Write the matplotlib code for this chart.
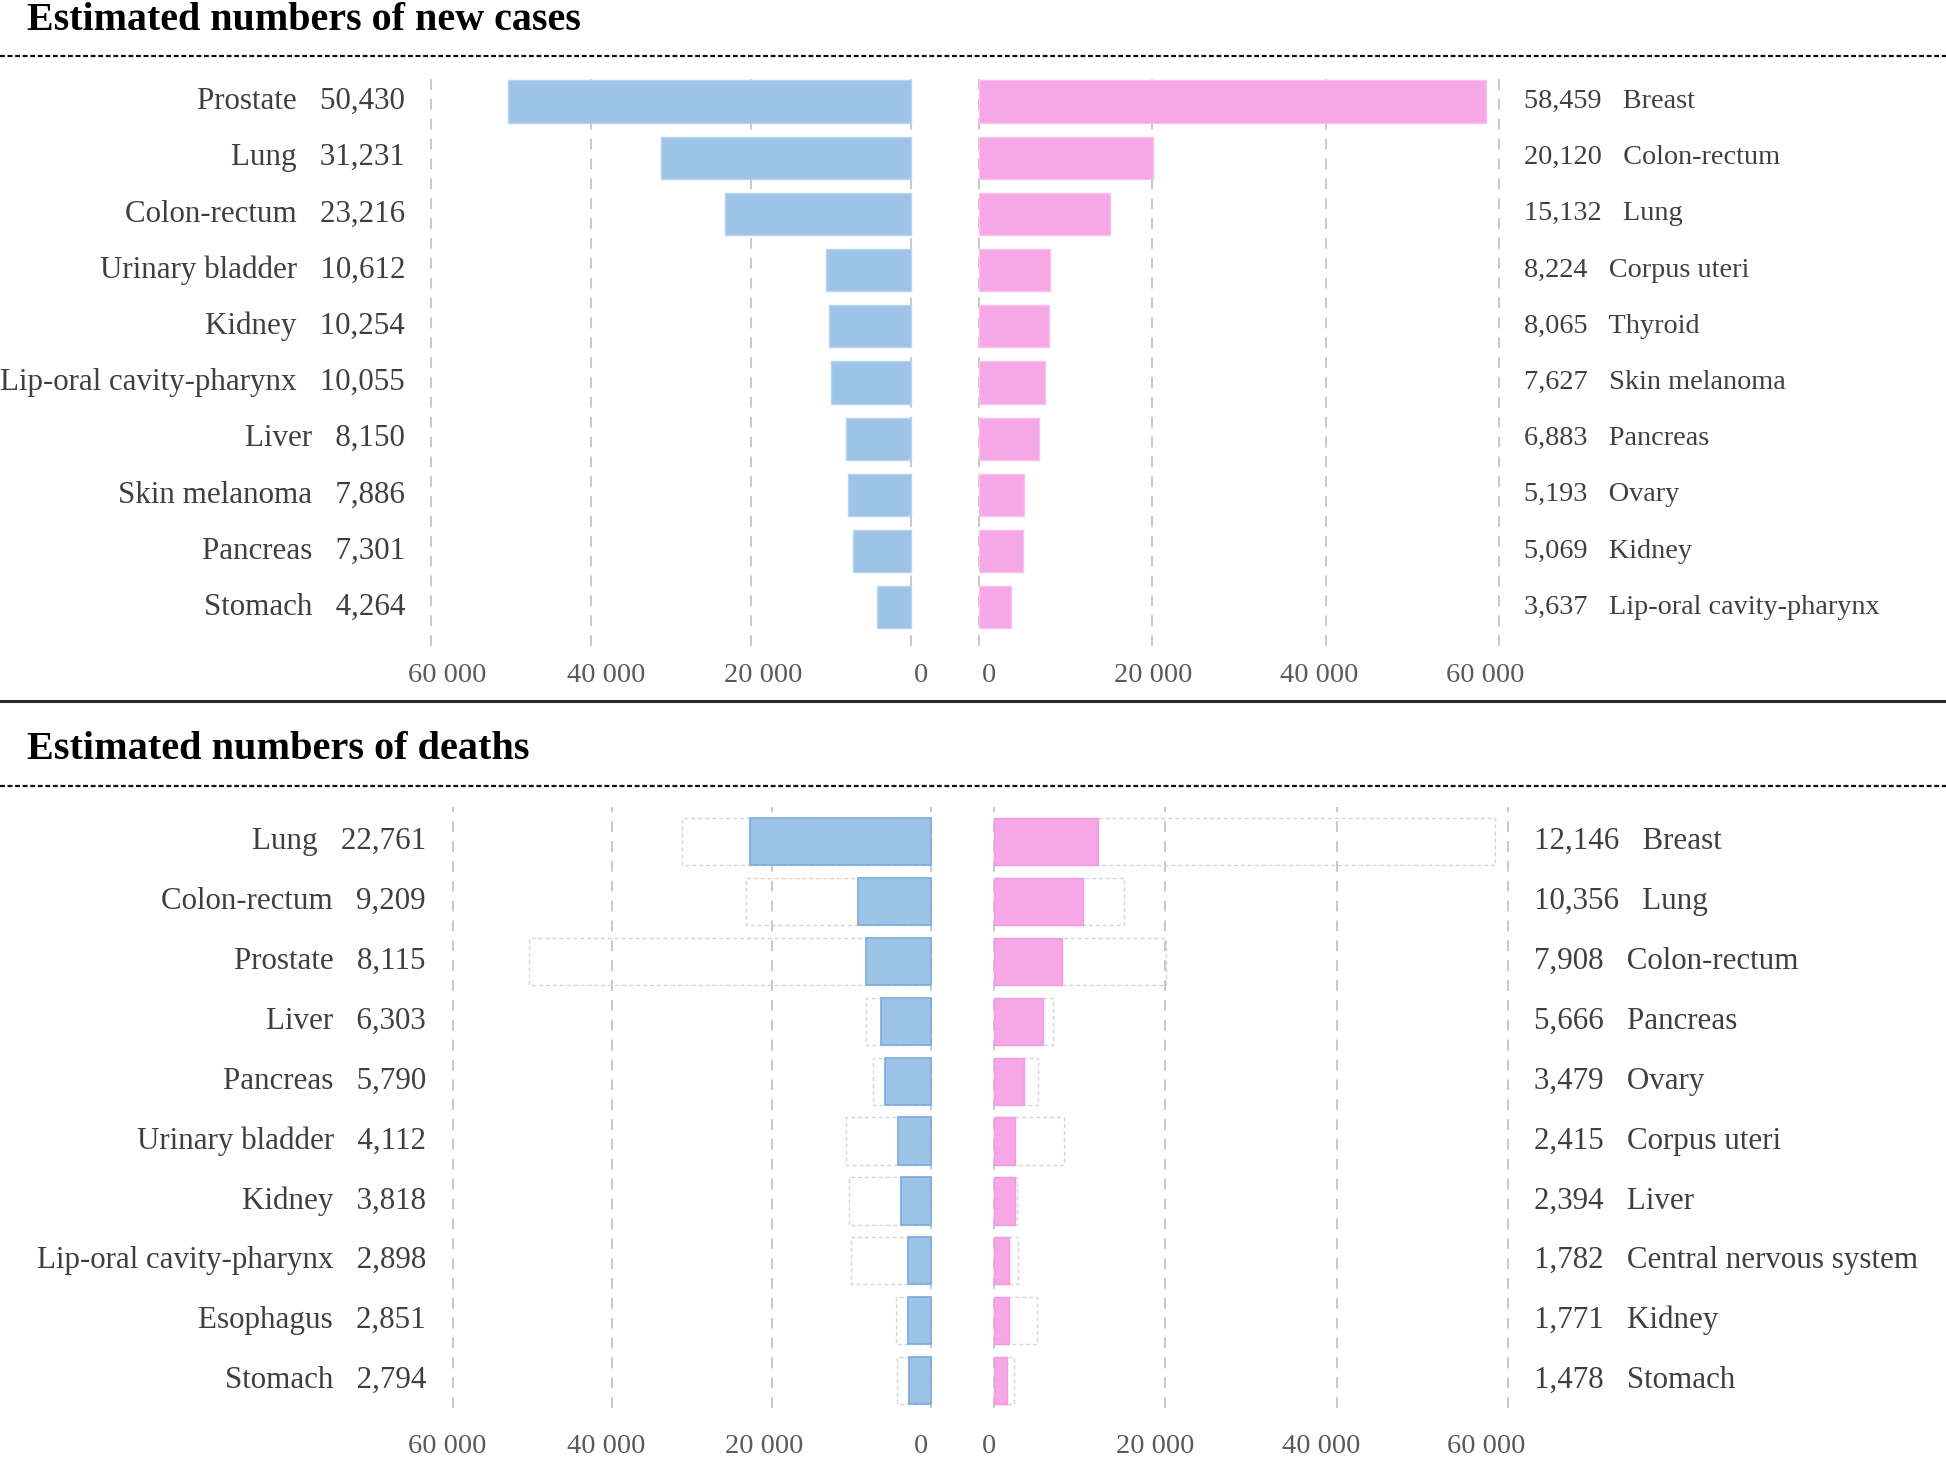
import matplotlib
matplotlib.use("Agg")
import matplotlib.pyplot as plt
from matplotlib.lines import Line2D
from matplotlib import transforms

plt.rcParams['font.family'] = ['Liberation Serif', 'DejaVu Serif']

# new cases
inc_male_sites = ['Prostate', 'Lung', 'Colon-rectum', 'Urinary bladder', 'Kidney',
                  'Lip-oral cavity-pharynx', 'Liver', 'Skin melanoma', 'Pancreas', 'Stomach']
inc_male = [50430, 31231, 23216, 10612, 10254, 10055, 8150, 7886, 7301, 4264]
inc_female_sites = ['Breast', 'Colon-rectum', 'Lung', 'Corpus uteri', 'Thyroid',
                    'Skin melanoma', 'Pancreas', 'Ovary', 'Kidney', 'Lip-oral cavity-pharynx']
inc_female = [58459, 20120, 15132, 8224, 8065, 7627, 6883, 5193, 5069, 3637]

# deaths (+ the new-case figure of the same site, drawn as a faint outline)
mort_male_sites = ['Lung', 'Colon-rectum', 'Prostate', 'Liver', 'Pancreas', 'Urinary bladder',
                   'Kidney', 'Lip-oral cavity-pharynx', 'Esophagus', 'Stomach']
mort_male = [22761, 9209, 8115, 6303, 5790, 4112, 3818, 2898, 2851, 2794]
mort_male_inc = [31231, 23216, 50430, 8150, 7301, 10612, 10254, 10055, 4350, 4264]
mort_female_sites = ['Breast', 'Lung', 'Colon-rectum', 'Pancreas', 'Ovary', 'Corpus uteri',
                     'Liver', 'Central nervous system', 'Kidney', 'Stomach']
mort_female = [12146, 10356, 7908, 5666, 3479, 2415, 2394, 1782, 1771, 1478]
mort_female_inc = [58459, 15132, 20120, 6883, 5193, 8224, 2700, 2850, 5069, 2300]

ticks = [0, 20000, 40000, 60000]
tick_labels = ['0', '20 000', '40 000', '60 000']

BLUE = '#9dc3e6'
PINK = '#f5a7e6'
TXT = '#3f3f3f'

W, H = 1946, 1458
fig = plt.figure(figsize=(W / 100, H / 100), dpi=100)


def make_axes(px_zero, px_60k, y_top, y_bot, ylims, left):
    pad = 800
    s = (px_60k - px_zero) / 60000
    xa = px_zero - pad * s
    xb = px_60k + pad * s
    x0, x1 = min(xa, xb), max(xa, xb)
    ax = fig.add_axes([x0 / W, 1 - y_bot / H, (x1 - x0) / W, (y_bot - y_top) / H])
    if left:
        ax.set_xlim(60000 + pad, -pad)
    else:
        ax.set_xlim(-pad, 60000 + pad)
    ax.set_ylim(*ylims)
    for sp in ax.spines.values():
        sp.set_visible(False)
    ax.set_yticks([])
    ax.set_xticks(ticks)
    ax.set_xticklabels(tick_labels)
    for t in ticks:
        ax.plot([t, t], [ylims[0], ylims[1]], color='#c4c4c4', lw=1.3,
                ls=(0, (6, 5)), zorder=0)
    return ax


def label_ticks(ax, pad, shifts):
    # the printed tick labels sit a little off their gridlines
    ax.tick_params(axis='x', length=0, pad=pad, labelsize=20.5, labelcolor='#5a5a5a')
    for lab, dx in zip(ax.get_xticklabels(), shifts):
        off = transforms.ScaledTranslation(dx / 100, 0, fig.dpi_scale_trans)
        lab.set_transform(lab.get_transform() + off)


def row_labels(ax, sites, vals, xpx, left, size=22.3):
    tr = transforms.blended_transform_factory(fig.transFigure, ax.transData)
    for i, (s, v) in enumerate(zip(sites, vals)):
        if left:
            txt = f"{s}   {v:,}"
            ha = 'right'
        else:
            txt = f"{v:,}   {s}"
            ha = 'left'
        ax.text(xpx / W, i, txt, transform=tr, ha=ha, va='center',
                fontsize=size, color=TXT)


rows = list(range(10))

# ---- top panel: new cases
top_ylim = (9.69, -0.49)
ax1 = make_axes(911, 431, 74, 646, top_ylim, True)
ax1.barh(rows, inc_male, height=0.75, color=BLUE, edgecolor='#b9d4ee', lw=1, zorder=2)
row_labels(ax1, inc_male_sites, inc_male, 405, True)
label_ticks(ax1, 12, [10, 12, 15, 16])

ax2 = make_axes(979, 1499, 74, 646, top_ylim, False)
ax2.barh(rows, inc_female, height=0.75, color=PINK, edgecolor='#f8c2ee', lw=1, zorder=2)
row_labels(ax2, inc_female_sites, inc_female, 1524, False, size=20.3)
label_ticks(ax2, 12, [10, 1, -6, -14])

# ---- bottom panel: deaths
bot_ylim = (9.46, -0.58)
ax3 = make_axes(931, 453, 807, 1408, bot_ylim, True)
ax3.barh(rows, mort_male_inc, height=0.79, fill=False, edgecolor='#d6d6d6',
         lw=1, ls=(0, (3, 2)), zorder=1)
ax3.barh(rows, mort_male, height=0.79, color=BLUE, edgecolor='#78abdd', lw=1.2, zorder=2)
row_labels(ax3, mort_male_sites, mort_male, 426, True)
label_ticks(ax3, 19, [-10, -7, -6, -6])

ax4 = make_axes(994, 1508, 807, 1408, bot_ylim, False)
ax4.barh(rows, mort_female_inc, height=0.79, fill=False, edgecolor='#d6d6d6',
         lw=1, ls=(0, (3, 2)), zorder=1)
ax4.barh(rows, mort_female, height=0.79, color=PINK, edgecolor='#f29be0', lw=1, zorder=2)
row_labels(ax4, mort_female_sites, mort_female, 1534, False)
label_ticks(ax4, 19, [-5, -10, -15, -22])

# ---- titles and rules
fig.text(27 / W, 1 - 30 / H, 'Estimated numbers of new cases', fontsize=28.8,
         fontweight='bold', color='black', ha='left', va='baseline')
fig.text(27 / W, 1 - 759 / H, 'Estimated numbers of deaths', fontsize=29,
         fontweight='bold', color='black', ha='left', va='baseline')

for y in (56, 786):
    fig.add_artist(Line2D([0, 1], [1 - y / H, 1 - y / H], transform=fig.transFigure,
                          color='#111111', lw=1.6, ls=(0, (2.2, 1.2))))
fig.add_artist(Line2D([0, 1], [1 - 701 / H, 1 - 701 / H], transform=fig.transFigure,
                      color='#2a2a2a', lw=2.2))

fig.savefig('out.png', dpi=100, facecolor='white')
